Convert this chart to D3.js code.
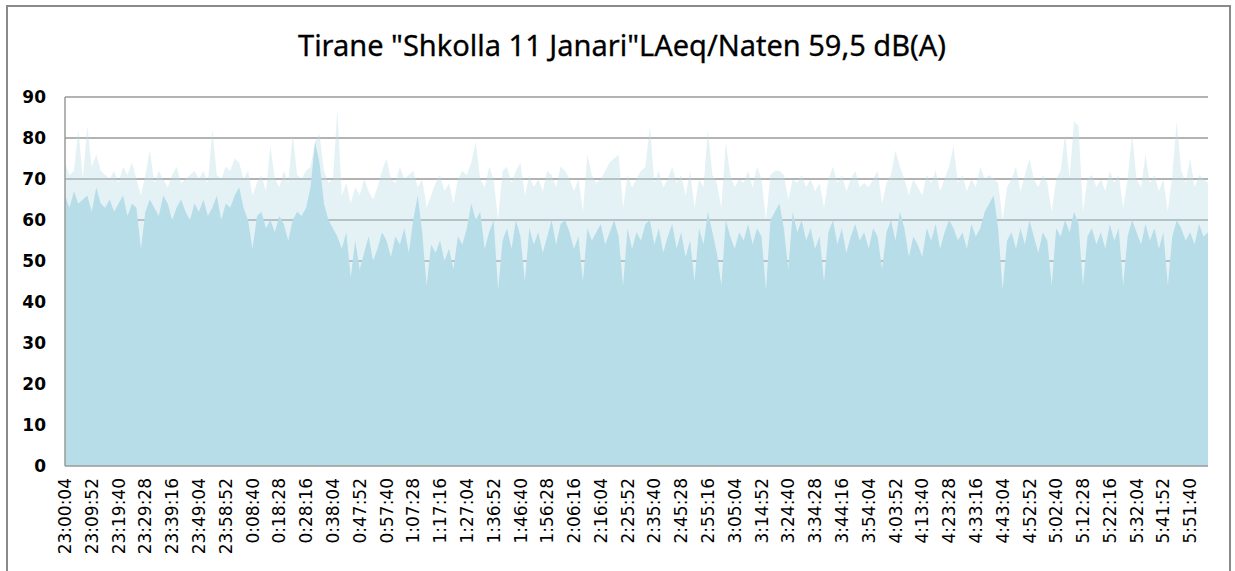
<!DOCTYPE html>
<html>
<head>
<meta charset="utf-8">
<script src="https://cdn.jsdelivr.net/npm/d3@7"></script>
<style>
  body { margin: 0; background: #fff; }
  svg { display: block; }
</style>
</head>
<body>
<script>
"use strict";
(function() {
const svgSize = {
    width: 1235,
    height: 571,
}

// chart title
const title = 'Tirane "Shkolla 11 Janari"LAeq/Naten 59,5 dB(A)';

// one reading every 98 s starting 23:00:04
const stepSeconds = 98;

// main body of the LAeq trace, dB(A)
const levelDb = [
    66,63,67,64,65,66,62,68,64,63,
    65,62,64,66,61,64,63,53,62,65,
    63,61,66,64,60,63,65,62,60,64,
    62,65,61,63,66,60,64,63,66,68,
    63,60,53,61,62,58,60,57,61,59,
    55,60,62,61,63,68,79,74,64,60,
    58,56,53,57,46,55,48,52,56,50,
    53,57,55,51,56,54,58,52,60,66,
    57,44,54,52,55,50,53,48,56,54,
    58,64,60,62,53,57,60,43,55,58,
    53,60,56,45,58,54,57,52,56,60,
    54,59,60,57,53,56,45,58,55,57,
    59,54,57,60,56,44,58,53,57,55,
    59,60,54,58,52,56,59,53,57,51,
    55,45,58,54,62,57,52,44,60,56,
    53,57,55,59,54,58,56,43,60,62,
    64,58,48,62,57,60,55,58,53,56,
    45,57,60,54,58,52,56,59,55,57,
    53,58,56,48,57,60,55,62,58,51,
    56,54,51,58,55,59,53,57,60,58,
    55,57,53,59,56,58,62,64,66,58,
    43,55,57,53,58,54,60,56,52,57,
    55,44,58,56,60,57,62,59,44,56,
    58,54,57,53,59,55,58,44,56,60,
    57,54,59,55,58,53,57,44,56,60,
    58,55,57,54,59,56,57
];

// short peaks on top of the body, dB(A)
const peakDb = [
    74,71,72,82,70,83,73,76,72,71,
    70,72,69,73,71,74,70,66,71,77,
    69,72,70,68,71,73,69,70,71,72,
    70,72,69,82,71,70,73,72,75,74,
    70,72,66,69,71,67,78,70,68,72,
    69,81,71,70,72,73,79,81,72,69,
    70,87,66,69,64,68,66,70,67,65,
    68,72,75,70,69,73,70,71,72,68,
    70,63,66,69,71,67,69,64,70,72,
    71,74,79,70,68,73,70,60,72,73,
    69,72,74,66,71,68,70,67,72,71,
    68,73,72,70,67,70,62,76,71,69,
    70,72,74,75,76,63,71,68,70,72,
    73,83,69,72,68,70,73,69,71,66,
    72,63,70,68,82,71,69,63,79,71,
    68,70,69,72,68,73,70,60,71,72,
    72,71,65,70,69,71,68,70,67,69,
    63,70,73,69,71,67,70,72,68,69,
    68,70,72,64,69,71,77,73,70,66,
    70,68,66,71,69,72,67,70,73,78,
    69,71,67,70,68,73,70,71,70,69,
    60,68,70,73,67,71,75,70,68,71,
    69,62,70,72,81,70,84,83,62,70,
    71,68,70,67,72,69,71,63,70,81,
    70,68,76,69,71,67,70,62,71,84,
    72,69,75,68,71,70,69
];

// category labels shown on the x axis, one every 588 s
const timeLabels = [
    "23:00:04","23:09:52","23:19:40","23:29:28","23:39:16","23:49:04","23:58:52",
    "0:08:40","0:18:28","0:28:16","0:38:04","0:47:52","0:57:40","1:07:28",
    "1:17:16","1:27:04","1:36:52","1:46:40","1:56:28","2:06:16","2:16:04",
    "2:25:52","2:35:40","2:45:28","2:55:16","3:05:04","3:14:52","3:24:40",
    "3:34:28","3:44:16","3:54:04","4:03:52","4:13:40","4:23:28","4:33:16",
    "4:43:04","4:52:52","5:02:40","5:12:28","5:22:16","5:32:04","5:41:52",
    "5:51:40"
];
const labelStep = 588;

const yTicks = [0, 10, 20, 30, 40, 50, 60, 70, 80, 90];

window.addEventListener("load", init);

function init() {
    const svg = d3.select("body").append("svg")
        .attr("width", svgSize.width)
        .attr("height", svgSize.height);

    const plot = { left: 65, right: 1208, top: 97, bottom: 466 };

    // outer chart frame
    svg.append("rect")
        .attr("x", 7).attr("y", 6)
        .attr("width", 1223).attr("height", 600)
        .attr("fill", "#fff")
        .attr("stroke", "#8a8a8a")
        .attr("stroke-width", 2);

    svg.append("text")
        .attr("x", 622).attr("y", 56)
        .attr("text-anchor", "middle")
        .attr("font-family", "'Noto Sans', sans-serif")
        .attr("font-size", 29)
        .attr("fill", "#000")
        .attr("stroke", "#000")
        .attr("stroke-width", 0.3)
        .text(title);

    const x = d3.scaleLinear()
        .domain([0, (levelDb.length - 1) * stepSeconds])
        .range([plot.left, plot.right]);
    const y = d3.scaleLinear()
        .domain([0, 90])
        .range([plot.bottom, plot.top]);

    // horizontal grid
    svg.append("g")
        .selectAll("line")
        .data(yTicks.filter(d => d > 0))
        .enter()
        .append("line")
            .attr("x1", plot.left).attr("x2", plot.right)
            .attr("y1", d => y(d)).attr("y2", d => y(d))
            .attr("stroke", "#9a9a9a")
            .attr("stroke-width", 1.5);

    const area = d3.area()
        .x((d, i) => x(i * stepSeconds))
        .y0(y(0))
        .y1(d => y(d));

    // faint haze of the short peaks, grid shows through it
    svg.append("path")
        .datum(peakDb)
        .attr("fill", "#b7dde8")
        .attr("fill-opacity", 0.38)
        .attr("d", area);

    svg.append("path")
        .datum(levelDb)
        .attr("fill", "#b7dde8")
        .attr("d", area);

    // axis lines
    svg.append("line")
        .attr("x1", plot.left).attr("x2", plot.left)
        .attr("y1", plot.top).attr("y2", plot.bottom)
        .attr("stroke", "#9a9a9a").attr("stroke-width", 1.5);
    svg.append("line")
        .attr("x1", plot.left).attr("x2", plot.right)
        .attr("y1", plot.bottom).attr("y2", plot.bottom)
        .attr("stroke", "#9a9a9a").attr("stroke-width", 1.5);

    // y tick labels
    svg.append("g")
        .selectAll("text")
        .data(yTicks)
        .enter()
        .append("text")
            .attr("x", 46)
            .attr("y", d => y(d))
            .attr("dy", "0.36em")
            .attr("text-anchor", "end")
            .attr("font-family", "'DejaVu Sans', sans-serif")
            .attr("font-weight", "bold")
            .attr("font-size", 17)
            .attr("fill", "#000")
            .text(d => d);

    // x tick labels, rotated
    svg.append("g")
        .selectAll("text")
        .data(timeLabels)
        .enter()
        .append("text")
            .attr("transform", (d, i) => "translate(" + x(i * labelStep) + ",478) rotate(-90)")
            .attr("dy", "0.36em")
            .attr("text-anchor", "end")
            .attr("font-family", "'DejaVu Sans', sans-serif")
            .attr("font-size", 17)
            .attr("fill", "#000")
            .text(d => d);
}
})();
</script>
</body>
</html>
